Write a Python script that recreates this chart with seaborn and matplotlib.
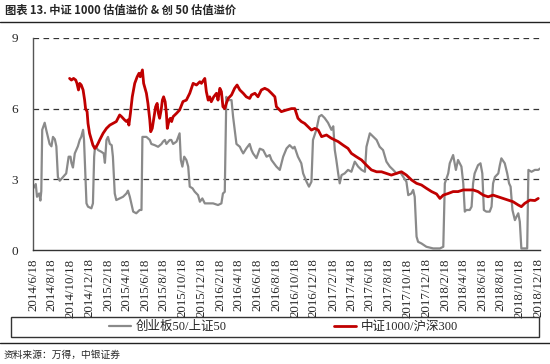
import matplotlib
matplotlib.use("Agg")
import matplotlib.pyplot as plt
import seaborn as sns
import pandas as pd
from matplotlib.patches import Rectangle
from matplotlib.lines import Line2D

# ---------------- data ----------------
gem_dates = [
    "2014-06-18", "2014-06-27", "2014-07-01", "2014-07-08", "2014-07-12", "2014-07-15",
    "2014-07-18", "2014-07-26", "2014-07-31", "2014-08-11", "2014-08-17", "2014-08-22",
    "2014-08-28", "2014-09-02", "2014-09-07", "2014-09-13", "2014-09-24", "2014-10-04",
    "2014-10-12", "2014-10-18", "2014-10-21", "2014-10-26", "2014-11-01", "2014-11-11",
    "2014-11-17", "2014-11-22", "2014-11-28", "2014-12-01", "2014-12-04", "2014-12-09",
    "2014-12-14", "2014-12-25", "2014-12-30", "2015-01-03", "2015-01-06", "2015-01-16",
    "2015-01-26", "2015-02-03", "2015-02-07", "2015-02-12", "2015-02-17", "2015-02-23",
    "2015-03-01", "2015-03-05", "2015-03-11", "2015-03-16", "2015-03-27", "2015-04-07",
    "2015-04-18", "2015-04-23", "2015-04-29", "2015-05-04", "2015-05-10", "2015-05-20",
    "2015-05-31", "2015-06-06", "2015-06-09", "2015-06-22", "2015-07-03", "2015-07-08",
    "2015-07-19", "2015-07-30", "2015-08-10", "2015-08-15", "2015-08-21", "2015-08-26",
    "2015-09-06", "2015-09-11", "2015-09-17", "2015-09-28", "2015-10-08", "2015-10-12",
    "2015-10-17", "2015-10-23", "2015-10-30", "2015-11-05", "2015-11-10", "2015-11-19",
    "2015-11-26", "2015-12-07", "2015-12-13", "2015-12-21", "2015-12-29", "2016-01-09",
    "2016-01-25", "2016-02-10", "2016-02-21", "2016-02-26", "2016-03-03", "2016-03-08",
    "2016-03-14", "2016-03-25", "2016-03-30", "2016-04-10", "2016-04-21", "2016-04-26",
    "2016-05-02", "2016-05-12", "2016-05-23", "2016-05-29", "2016-06-03", "2016-06-14",
    "2016-06-25", "2016-07-06", "2016-07-17", "2016-07-27", "2016-08-02", "2016-08-18",
    "2016-08-29", "2016-09-09", "2016-09-20", "2016-09-30", "2016-10-11", "2016-10-16",
    "2016-10-27", "2016-11-07", "2016-11-13", "2016-11-24", "2016-12-02", "2016-12-10",
    "2016-12-15", "2016-12-26", "2017-01-04", "2017-01-12", "2017-01-22", "2017-02-02",
    "2017-02-13", "2017-02-19", "2017-02-24", "2017-03-01", "2017-03-07", "2017-03-12",
    "2017-03-18", "2017-03-28", "2017-04-08", "2017-04-19", "2017-04-30", "2017-05-11",
    "2017-05-22", "2017-06-02", "2017-06-07", "2017-06-18", "2017-06-29", "2017-07-10",
    "2017-07-20", "2017-07-31", "2017-08-11", "2017-08-22", "2017-09-02", "2017-09-13",
    "2017-09-24", "2017-10-05", "2017-10-15", "2017-10-21", "2017-10-31", "2017-11-06",
    "2017-11-11", "2017-11-17", "2017-11-22", "2017-12-03", "2017-12-19", "2018-01-10",
    "2018-02-01", "2018-02-12", "2018-02-17", "2018-02-28", "2018-03-05", "2018-03-16",
    "2018-03-25", "2018-04-01", "2018-04-12", "2018-04-18", "2018-04-23", "2018-04-28",
    "2018-05-09", "2018-05-15", "2018-05-20", "2018-05-25", "2018-06-05", "2018-06-13",
    "2018-06-19", "2018-06-24", "2018-07-02", "2018-07-13", "2018-07-19", "2018-07-24",
    "2018-07-30", "2018-08-10", "2018-08-15", "2018-08-20", "2018-08-31", "2018-09-08",
    "2018-09-14", "2018-09-19", "2018-09-25", "2018-10-03", "2018-10-08", "2018-10-14",
    "2018-10-19", "2018-10-24", "2018-11-04", "2018-11-12", "2018-11-16", "2018-11-26",
    "2018-12-07", "2018-12-18", "2018-12-24",
]
gem_values = [
    2.60, 2.80, 2.26, 2.40, 2.10, 2.50,
    5.10, 5.40, 5.10, 4.50, 4.40, 4.80,
    4.70, 4.40, 3.10, 2.94, 3.10, 3.25,
    3.96, 3.96, 3.70, 3.50, 4.10, 4.40,
    4.67, 4.80, 5.10, 4.67, 3.70, 1.98,
    1.84, 1.77, 1.98, 3.96, 4.40, 4.24,
    4.17, 4.10, 3.70, 4.67, 4.80, 4.50,
    4.45, 3.96, 2.40, 2.12, 2.19, 2.26,
    2.40, 2.52, 2.26, 1.98, 1.63, 1.56,
    1.70, 1.70, 4.80, 4.80, 4.67, 4.50,
    4.45, 4.38, 4.50, 4.60, 4.67, 4.50,
    4.67, 4.67, 4.50, 4.60, 4.95, 3.82,
    3.54, 3.96, 3.82, 3.54, 2.69, 2.62,
    2.48, 2.33, 2.05, 2.19, 1.98, 1.98,
    1.98, 1.91, 1.98, 2.40, 2.47, 6.50,
    6.36, 6.36, 5.66, 4.50, 4.38, 4.24,
    4.10, 4.31, 4.50, 4.24, 4.10, 3.90,
    4.30, 4.24, 3.96, 4.03, 3.82, 3.54,
    3.40, 3.96, 4.31, 4.45, 4.31, 4.38,
    3.96, 3.68, 3.25, 2.90, 2.69, 2.90,
    4.67, 5.10, 5.66, 5.73, 5.60, 5.40,
    5.10, 5.25, 4.24, 3.82, 3.25, 2.83,
    3.18, 3.25, 3.40, 3.32, 3.75, 3.54,
    3.40, 3.32, 4.38, 4.95, 4.81, 4.67,
    4.38, 4.24, 3.75, 3.54, 3.40, 3.25,
    3.32, 3.10, 2.90, 2.33, 2.40, 2.55,
    2.26, 0.57, 0.35, 0.28, 0.14, 0.07,
    0.07, 0.14, 2.83, 3.25, 3.68, 4.03,
    3.40, 3.82, 3.54, 2.83, 1.63, 1.70,
    1.70, 1.84, 2.83, 3.25, 3.60, 3.68,
    3.25, 1.70, 1.63, 1.63, 1.84, 2.83,
    3.10, 3.25, 3.60, 3.89, 3.68, 3.25,
    2.83, 2.69, 1.70, 1.27, 1.41, 1.56,
    1.20, 0.07, 0.07, 0.07, 3.40, 3.32,
    3.40, 3.40, 3.46,
]

csi_dates = [
    "2014-10-15", "2014-10-21", "2014-10-28", "2014-11-04", "2014-11-08", "2014-11-13",
    "2014-11-17", "2014-11-22", "2014-11-28", "2014-12-03", "2014-12-06", "2014-12-11",
    "2014-12-14", "2014-12-19", "2014-12-25", "2014-12-30", "2015-01-05", "2015-01-10",
    "2015-01-16", "2015-01-21", "2015-02-01", "2015-02-12", "2015-02-23", "2015-03-05",
    "2015-03-16", "2015-03-27", "2015-04-02", "2015-04-07", "2015-04-12", "2015-04-18",
    "2015-04-23", "2015-04-26", "2015-05-01", "2015-05-07", "2015-05-15", "2015-05-23",
    "2015-05-29", "2015-06-02", "2015-06-09", "2015-06-13", "2015-06-22", "2015-06-27",
    "2015-07-03", "2015-07-06", "2015-07-11", "2015-07-17", "2015-07-22", "2015-07-27",
    "2015-07-31", "2015-08-04", "2015-08-09", "2015-08-13", "2015-08-17", "2015-08-22",
    "2015-08-26", "2015-08-29", "2015-09-04", "2015-09-08", "2015-09-12", "2015-09-17",
    "2015-09-28", "2015-10-08", "2015-10-19", "2015-10-30", "2015-11-10", "2015-11-21",
    "2015-12-02", "2015-12-13", "2015-12-18", "2015-12-29", "2016-01-03", "2016-01-09",
    "2016-01-14", "2016-01-19", "2016-01-27", "2016-02-05", "2016-02-10", "2016-02-16",
    "2016-02-21", "2016-02-26", "2016-03-03", "2016-03-08", "2016-03-14", "2016-03-25",
    "2016-04-04", "2016-04-12", "2016-04-21", "2016-05-02", "2016-05-12", "2016-05-23",
    "2016-05-29", "2016-06-09", "2016-06-19", "2016-06-30", "2016-07-11", "2016-07-22",
    "2016-08-02", "2016-08-13", "2016-08-18", "2016-09-03", "2016-09-20", "2016-10-06",
    "2016-10-17", "2016-10-27", "2016-11-07", "2016-11-18", "2016-11-29", "2016-12-10",
    "2016-12-21", "2017-01-01", "2017-01-12", "2017-01-28", "2017-02-13", "2017-02-24",
    "2017-03-07", "2017-03-23", "2017-04-08", "2017-04-19", "2017-05-05", "2017-05-22",
    "2017-06-07", "2017-06-23", "2017-07-10", "2017-07-26", "2017-08-11", "2017-08-27",
    "2017-09-13", "2017-09-29", "2017-10-15", "2017-11-01", "2017-11-17", "2017-12-03",
    "2017-12-19", "2018-01-05", "2018-01-21", "2018-02-01", "2018-02-12", "2018-02-28",
    "2018-03-16", "2018-04-01", "2018-04-18", "2018-05-04", "2018-05-20", "2018-06-05",
    "2018-06-22", "2018-07-08", "2018-07-24", "2018-08-09", "2018-08-26", "2018-09-11",
    "2018-09-27", "2018-10-14", "2018-10-24", "2018-11-04", "2018-11-21", "2018-12-07",
    "2018-12-18",
]
csi_values = [
    7.28, 7.21, 7.28, 7.21, 7.07, 6.79,
    7.07, 7.00, 6.79, 6.36, 6.00, 5.87,
    5.37, 4.95, 4.67, 4.45, 4.31, 4.38,
    4.53, 4.67, 4.95, 5.16, 5.30, 5.37,
    5.45, 5.73, 5.66, 5.59, 5.52, 5.45,
    5.52, 5.30, 5.80, 6.50, 7.07, 7.35,
    7.50, 7.35, 7.64, 7.07, 6.65, 6.22,
    5.52, 5.02, 5.16, 5.66, 6.08, 6.22,
    5.80, 5.59, 5.94, 6.36, 6.50, 6.29,
    5.80, 5.16, 5.52, 5.59, 5.45, 5.66,
    5.80, 5.94, 6.30, 6.36, 6.65, 7.07,
    7.00, 7.14, 7.07, 7.28, 6.72, 6.36,
    6.50, 6.29, 6.50, 6.65, 6.36, 6.86,
    6.72, 6.08, 6.00, 6.22, 6.43, 6.58,
    6.86, 7.00, 6.79, 6.65, 6.50, 6.43,
    6.58, 6.65, 6.50, 6.79, 6.86, 6.79,
    6.65, 6.50, 6.08, 5.87, 5.94, 6.00,
    6.00, 5.59, 5.45, 5.37, 5.23, 5.09,
    5.16, 5.09, 4.81, 4.88, 4.74, 4.67,
    4.60, 4.45, 4.31, 4.10, 3.96, 3.82,
    3.60, 3.40, 3.32, 3.32, 3.25, 3.18,
    3.25, 3.32, 3.18, 2.97, 2.83, 2.76,
    2.62, 2.48, 2.38, 2.19, 2.33, 2.40,
    2.48, 2.48, 2.55, 2.55, 2.55, 2.48,
    2.33, 2.26, 2.33, 2.26, 2.19, 2.12,
    2.05, 1.91, 1.84, 1.98, 2.12, 2.10,
    2.19,
]

series_names = ["创业板50/上证50", "中证1000/沪深300"]
y_ticks = [0, 3, 6, 9]
x_tick_start, x_tick_end = "2014-06-18", "2018-12-18"

title_text = "图表 13. 中证 1000 估值溢价 & 创 50 估值溢价"
source_text = "资料来源：万得，中银证券"

# ---------------- frame ----------------
df = pd.concat([
    pd.DataFrame({"date": pd.to_datetime(gem_dates), "value": gem_values, "series": series_names[0]}),
    pd.DataFrame({"date": pd.to_datetime(csi_dates), "value": csi_values, "series": series_names[1]}),
])

sns.set_style("white")
plt.rcParams["font.family"] = ["Liberation Serif", "Noto Sans CJK SC", "DejaVu Sans"]

fig = plt.figure(figsize=(5.5, 3.64), dpi=100)
ax = fig.add_axes([0.06, 0.313, 0.922, 0.583])

colors = {series_names[0]: "#8a8a8a", series_names[1]: "#c00000"}
widths = {series_names[0]: 1.6, series_names[1]: 2.0}
for name in series_names:
    sns.lineplot(data=df[df["series"] == name], x="date", y="value", ax=ax,
                 color=colors[name], linewidth=widths[name], legend=False,
                 estimator=None, sort=False, zorder=3 if name == series_names[1] else 2)

ticks = pd.date_range(x_tick_start, x_tick_end, freq=pd.DateOffset(months=2))
ax.set_xticks(ticks)
ax.set_xticklabels([f"{d.year}/{d.month}/{d.day}" for d in ticks], rotation=90,
                   fontsize=9.3, family="Liberation Serif")
ax.set_xlim(pd.Timestamp("2014-06-18"), pd.Timestamp("2018-12-24"))
ax.set_ylim(0, 9)
ax.set_yticks(y_ticks)
ax.set_yticklabels([str(v) for v in y_ticks], fontsize=9.5, family="Liberation Serif")
ax.set_xlabel("")
ax.set_ylabel("")

for v in y_ticks[1:]:
    ax.axhline(v, color="#333333", linewidth=0.9, linestyle=(0, (4.5, 3.5)), zorder=1)

for s in ["top", "right"]:
    ax.spines[s].set_visible(False)
ax.spines["left"].set_color("#555555")
ax.spines["left"].set_linewidth(1.0)
ax.spines["bottom"].set_color("#333333")
ax.spines["bottom"].set_linewidth(1.0)
ax.tick_params(axis="x", direction="out", length=4, width=0.8, color="#333333", pad=2)
ax.tick_params(axis="y", direction="out", length=3, width=0.8, color="#555555", pad=8)
ax.set_facecolor("white")

# title and rules
fig.text(0.009, 0.972, title_text, fontsize=8.1, fontweight="bold",
         family=["Noto Sans CJK SC", "DejaVu Sans"], ha="left", va="center")
fig.add_artist(Line2D([0.0, 1.0], [0.940, 0.940], color="#222222", linewidth=1.0))
fig.add_artist(Line2D([0.0, 1.0], [0.057, 0.057], color="#222222", linewidth=1.0))

# legend box
fig.add_artist(Rectangle((0.020, 0.074), 0.960, 0.056, fill=False,
                         edgecolor="#333333", linewidth=1.0))
handles = [Line2D([], [], color=colors[n], linewidth=widths[n]) for n in series_names]
fig.legend(handles, series_names, loc="center", bbox_to_anchor=(0.515, 0.102),
           ncol=2, frameon=False, handlelength=1.8, handletextpad=0.35,
           columnspacing=8.6, prop={"family": ["Liberation Serif", "Noto Sans CJK SC"], "size": 9})

fig.text(0.006, 0.025, source_text, fontsize=7, style="italic",
         family=["Noto Sans CJK SC", "DejaVu Sans"], ha="left", va="center")

fig.savefig("out.png", dpi=100, facecolor="white")
